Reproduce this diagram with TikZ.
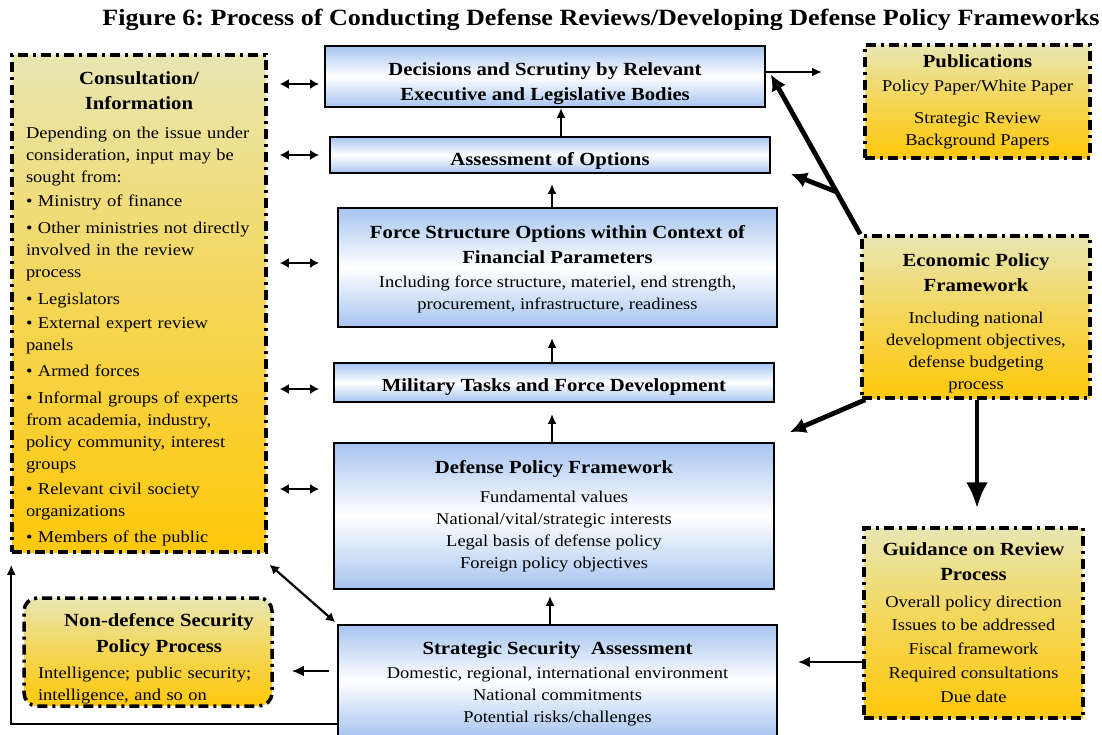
\documentclass[tikz,border=0pt]{standalone}
\usepackage{fontspec}
\setmainfont{Liberation Serif}[FakeStretch=1.12]
\usetikzlibrary{arrows.meta,calc}
\frenchspacing
\definecolor{blueT}{HTML}{A6C4F0}
\definecolor{yelT}{HTML}{E8E6B2}
\definecolor{yelB}{HTML}{FFC80A}
\newcommand\HeadF{\fontsize{18.5}{22}\selectfont\bfseries}
\newcommand\BodyF{\fontsize{16.5}{22}\selectfont}
\newcommand\TopPad[1]{\rule{0pt}{#1pt}}
\tikzset{
  bluebox/.style={draw=black, line width=1.8pt, top color=blueT, bottom color=blueT, middle color=white,
    align=center, inner sep=0pt, font=\BodyF},
  yelbox/.style={draw=black, line width=3.5pt, dash pattern=on 10pt off 5pt on 3pt off 5pt,
    top color=yelT, bottom color=yelB, middle color=yelT!45!yelB, align=center, inner sep=0pt, font=\BodyF},
  arr/.style={line width=2pt, -{Latex[length=10pt,width=9pt]}},
  darr/.style={line width=2.2pt, {Latex[length=9pt,width=10pt]}-{Latex[length=9pt,width=10pt]}},
  marr/.style={line width=2.8pt, -{Latex[length=12pt,width=11pt]}},
  tarr/.style={line width=4.8pt, -{Latex[length=16pt,width=16pt]}},
}
\begin{document}
\begin{tikzpicture}[x=1pt,y=-1pt]
\useasboundingbox (0,0) rectangle (1102,734);

\node[font=\fontsize{23.3}{26}\selectfont\bfseries] (title) at (601,20)
  {Figure 6: Process of Conducting Defense Reviews/Developing Defense Policy Frameworks};

% central column
\node[bluebox, minimum width=440, minimum height=61] (dec) at (545,76.5)
  {\TopPad{26.7}\HeadF Decisions and Scrutiny by Relevant\\[3pt]\HeadF Executive and Legislative Bodies};
\node[bluebox, minimum width=440, minimum height=36] (assess) at (550,155)
  {\TopPad{24.7}\HeadF Assessment of Options};
\node[bluebox, minimum width=439, minimum height=119] (force) at (557.5,267.5)
  {\TopPad{16.7}\HeadF Force Structure Options within Context of\\[3pt]
   \HeadF Financial Parameters\\[2pt]
   Including force structure, materiel, end strength,\\
   procurement, infrastructure, readiness};
\node[bluebox, minimum width=440, minimum height=39] (mil) at (554,382.5)
  {\TopPad{22.7}\HeadF Military Tasks and Force Development};
\node[bluebox, minimum width=440, minimum height=146] (dpf) at (554,516)
  {\HeadF Defense Policy Framework\\[7pt]
   Fundamental values\\
   National/vital/strategic interests\\
   Legal basis of defense policy\\
   Foreign policy objectives};
\node[bluebox, minimum width=439, minimum height=112] (ssa) at (557.5,681)
  {\TopPad{18.7}\HeadF Strategic Security\ \ Assessment\\[2pt]
   Domestic, regional, international environment\\
   National commitments\\
   Potential risks/challenges};

% left
\node[yelbox, minimum height=497, text width=226, inner xsep=14pt, align=left] (cons) at (139,303.5)
  {\TopPad{22.7}\makebox[\linewidth]{\HeadF Consultation/}\\[3pt]
   \makebox[\linewidth]{\HeadF Information}\\[7pt]
   Depending on the issue under\\
   consideration, input may be\\
   sought from:\\[2pt]
   • Ministry of finance\\[5pt]
   • Other ministries not directly\\
   involved in the review\\
   process\\[5pt]
   • Legislators\\[2pt]
   • External expert review\\
   panels\\[4pt]
   • Armed forces\\[5pt]
   • Informal groups of experts\\
   from academia, industry,\\
   policy community, interest\\
   groups\\[3pt]
   • Relevant civil society\\
   organizations\\[4pt]
   • Members of the public};
\node[yelbox, rounded corners=13pt, minimum height=108, text width=220, inner xsep=14pt, align=left] (nondef) at (148,652)
  {\TopPad{26.7}\makebox[\linewidth]{\hspace{22pt}\HeadF Non-defence Security}\\[4pt]
   \makebox[\linewidth]{\hspace{22pt}\HeadF Policy Process}\\[4pt]
   Intelligence; public security;\\
   intelligence, and so on};

% right
\node[yelbox, minimum width=225, minimum height=113] (pub) at (977.5,101.5)
  {\HeadF Publications\\[2pt]
   Policy Paper/White Paper\\[10pt]
   Strategic Review\\
   Background Papers};
\node[yelbox, minimum width=228, minimum height=162] (econ) at (976,317)
  {\TopPad{24.7}\HeadF Economic Policy\\[3pt]
   \HeadF Framework\\[10pt]
   Including national\\
   development objectives,\\
   defense budgeting\\
   process};
\node[yelbox, minimum width=219, minimum height=190] (guide) at (973.5,623)
  {\HeadF Guidance on Review\\[3pt]
   \HeadF Process\\[5pt]
   Overall policy direction\\[1pt]
   Issues to be addressed\\[2pt]
   Fiscal framework\\[2pt]
   Required consultations\\[2pt]
   Due date};

% vertical flow
\draw[arr] ([xshift=11]assess.north) -- ([xshift=16]dec.south);
\draw[arr] ([xshift=-5.5]force.north) -- ([xshift=2,yshift=-10]assess.south);
\draw[arr] ([xshift=-2]mil.north) -- ([xshift=-5.5,yshift=-10]force.south);
\draw[arr] ([xshift=-2]dpf.north) -- ([xshift=-2,yshift=-11]mil.south);
\draw[arr] ([xshift=-7.5]ssa.north) -- ([xshift=-4,yshift=-6]dpf.south);

% consultation links
\draw[darr, shorten <=12pt, shorten >=5pt] (cons.east |- 0,84) -- (dec.west |- 0,84);
\draw[darr, shorten <=12pt, shorten >=10pt] (cons.east |- 0,155) -- (assess.west |- 0,155);
\draw[darr, shorten <=12pt, shorten >=18pt] (cons.east |- 0,263) -- (force.west |- 0,263);
\draw[darr, shorten <=12pt, shorten >=14pt] (cons.east |- 0,389) -- (mil.west |- 0,389);
\draw[darr, shorten <=12pt, shorten >=14pt] (cons.east |- 0,489) -- (dpf.west |- 0,489);
\draw[darr] ([xshift=2,yshift=-11]cons.south east) -- ([xshift=-2,yshift=2]ssa.north west);
\draw[arr] ([yshift=-43]ssa.west) -| ([xshift=1,yshift=-11]cons.south west);

% publications
\coordinate (pubin) at (822,72);
\draw[arr] ([yshift=4.5]dec.east) -- (pubin);

% economic links
\coordinate (branch) at ($(econ.north west)!0.265!([xshift=5,yshift=2]dec.east)$);
\draw[tarr] (econ.north west) -- ([xshift=5,yshift=2]dec.east);
\draw[tarr] (branch) -- ([xshift=20]assess.south east);
\draw[tarr] ([xshift=5]econ.south west) -- ([xshift=15,yshift=10]dpf.north east);
\draw[line width=4.8pt, -{Latex[length=26pt,width=22pt]}] ([xshift=1]econ.south) -- ([xshift=3.5,yshift=18]guide.north);

% guidance and strategic
\draw[marr] ([yshift=-39]guide.west) -- ([xshift=20,yshift=19]ssa.east);
\draw[marr] ([xshift=-8,yshift=10]ssa.west) -- ([xshift=18,yshift=-19]nondef.east);
\end{tikzpicture}
\end{document}
